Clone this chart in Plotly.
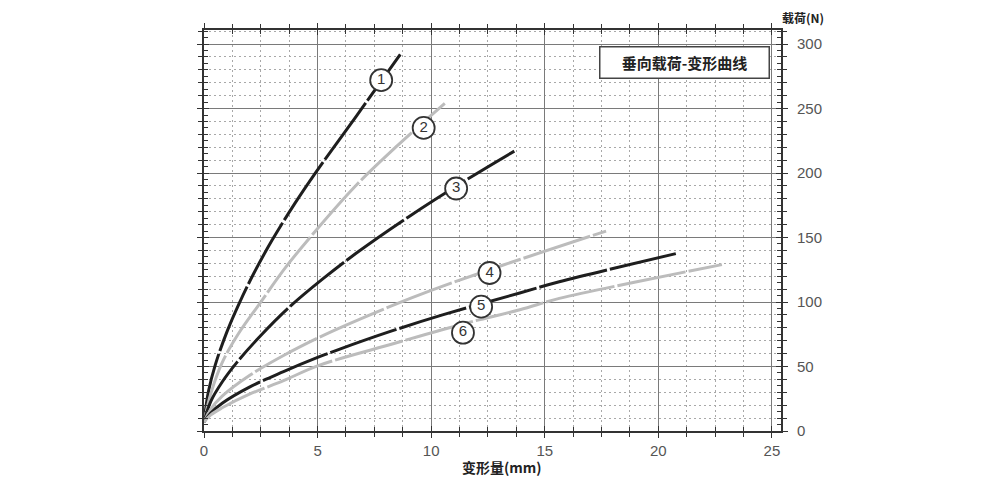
import plotly.graph_objects as go

# Curves: deformation (mm) vs load (N)
c1_x = [0, 0.2, 0.5, 1.0, 1.55, 2.2, 3.0, 4.0, 4.9, 6.7, 8.64]
c1_y = [7, 31, 51.5, 76.5, 99, 122.5, 148, 176.5, 200, 244, 292]

c2_x = [0, 0.3, 0.8, 1.5, 2.46, 3.6, 4.88, 6.71, 8.5, 10.6]
c2_y = [7, 29, 53, 75, 99, 127, 154.5, 190.7, 221, 254]

c3_x = [0, 0.3, 0.8, 1.44, 2.5, 3.78, 5.2, 6.71, 9.0, 11.54, 13.66]
c3_y = [7, 23, 38, 53, 74, 96.4, 117.5, 138, 166, 194.6, 217]

c4_x = [0, 0.3, 0.8, 2.0, 3.5, 5.0, 5.98, 8.17, 10.0, 12.57, 13.9, 17.7]
c4_y = [7, 17, 27, 43, 58.5, 72, 80, 96.4, 109, 125, 133, 155]

c5_x = [0, 0.3, 0.8, 2.0, 3.5, 5.0, 5.98, 8.17, 10.5, 13.9, 15.64, 20.77]
c5_y = [7, 14, 21.5, 34, 46, 57, 63.5, 77, 90, 107, 115.7, 137.5]

c6_x = [0, 0.3, 0.8, 2.0, 3.5, 5.0, 8.4, 11.4, 13.9, 15.64, 19.0, 22.8]
c6_y = [7, 12.5, 18, 28.5, 39, 50.5, 68, 83, 94, 102.8, 115.5, 129]

label_text = ["1", "2", "3", "4", "5", "6"]
label_x = [7.8, 9.67, 11.1, 12.57, 12.2, 11.4]
label_y = [272, 235, 188, 122.5, 96.4, 76.2]

x_ticks = [0, 5, 10, 15, 20, 25]
y_ticks = [0, 50, 100, 150, 200, 250, 300]

legend_title = "垂向载荷-变形曲线"
x_title = "变形量(mm)"
y_title = "载荷(N)"

BLACK = "#1e1e1e"
GRAY = "#bcbcbc"

curves = [
    (c1_x, c1_y, BLACK),
    (c2_x, c2_y, GRAY),
    (c3_x, c3_y, BLACK),
    (c4_x, c4_y, GRAY),
    (c5_x, c5_y, BLACK),
    (c6_x, c6_y, GRAY),
]

fig = go.Figure()
for xs, ys, col in curves:
    fig.add_trace(go.Scatter(
        x=xs, y=ys, mode="lines",
        line=dict(color=col, width=3, shape="spline", smoothing=1.0, dash="70px,3px"),
        showlegend=False, hoverinfo="skip",
    ))

fig.add_trace(go.Scatter(
    x=label_x, y=label_y, mode="markers+text", text=label_text,
    textposition="middle center",
    textfont=dict(family="Liberation Sans, Arial", size=15, color="#333"),
    marker=dict(symbol="circle", size=22, color="white", line=dict(color="#333", width=1.8)),
    showlegend=False, hoverinfo="skip",
))

# invisible trace for overlay axes (crossing ticks)
fig.add_trace(go.Scatter(x=[0], y=[0], xaxis="x2", yaxis="y2", mode="markers",
                         marker=dict(opacity=0), showlegend=False, hoverinfo="skip"))

XR = [0, 25.4]
YR = [0, 310.9]
tickfont = dict(family="Liberation Sans, Arial", size=15, color="#555")

fig.update_layout(
    width=1000, height=480,
    margin=dict(l=196, r=227, t=22, b=57),
    paper_bgcolor="white", plot_bgcolor="white",
    xaxis=dict(
        range=XR, tickvals=x_ticks, ticks="outside", ticklen=5, tickwidth=1.2, tickcolor="#333",
        showline=True, linewidth=2, linecolor="#333", mirror="ticks",
        showgrid=True, gridcolor="#7a7a7a", gridwidth=1,
        minor=dict(dtick=1.25, tick0=0, ticks="outside", ticklen=4, tickcolor="#333",
                   showgrid=True, gridcolor="#a8a8a8", griddash="2px,3px", gridwidth=1),
        tickfont=tickfont, zeroline=False, fixedrange=True, automargin=False,
    ),
    yaxis=dict(
        range=YR, tickvals=y_ticks, side="right", ticks="outside", ticklen=5, tickwidth=1.2,
        tickcolor="#333", ticklabelstandoff=6,
        showline=True, linewidth=2, linecolor="#333", mirror="ticks",
        showgrid=True, gridcolor="#7a7a7a", gridwidth=1,
        minor=dict(dtick=10, tick0=0, ticks="outside", ticklen=4, tickcolor="#333",
                   showgrid=True, gridcolor="#a8a8a8", griddash="2px,3px", gridwidth=1),
        tickfont=tickfont, zeroline=False, fixedrange=True, automargin=False,
    ),
    xaxis2=dict(
        range=XR, overlaying="x", anchor="y", side="bottom", tickvals=x_ticks,
        ticks="inside", ticklen=5, tickcolor="#333", showticklabels=False,
        showgrid=False, zeroline=False, mirror="ticks", showline=False, automargin=False,
        minor=dict(dtick=1.25, tick0=0, ticks="inside", ticklen=4, tickcolor="#333", showgrid=False),
    ),
    yaxis2=dict(
        range=YR, overlaying="y", anchor="x", side="right", tickvals=y_ticks,
        ticks="inside", ticklen=5, tickcolor="#333", showticklabels=False,
        showgrid=False, zeroline=False, mirror="ticks", showline=False, automargin=False,
        minor=dict(dtick=5, tick0=0, ticks="inside", ticklen=4, tickcolor="#333", showgrid=False),
    ),
    annotations=[
        dict(text="<b>" + legend_title + "</b>", xref="paper", yref="paper",
             x=0.832, y=0.92, xanchor="center", yanchor="middle", showarrow=False,
             font=dict(family="Noto Sans CJK SC", size=15, color="#222"),
             bgcolor="white", bordercolor="#444", borderwidth=1.5, borderpad=4,
             width=160, height=22),
        dict(text="<b>" + x_title + "</b>", xref="paper", yref="paper",
             x=0.516, y=-0.089, xanchor="center", yanchor="middle", showarrow=False,
             font=dict(family="Noto Sans CJK SC", size=14, color="#222")),
        dict(text="<b>" + y_title + "</b>", xref="paper", yref="paper",
             x=1.038, y=1.030, xanchor="center", yanchor="middle", showarrow=False,
             font=dict(family="Noto Sans CJK SC", size=12, color="#222")),
    ],
)

fig.write_html("out.html")
